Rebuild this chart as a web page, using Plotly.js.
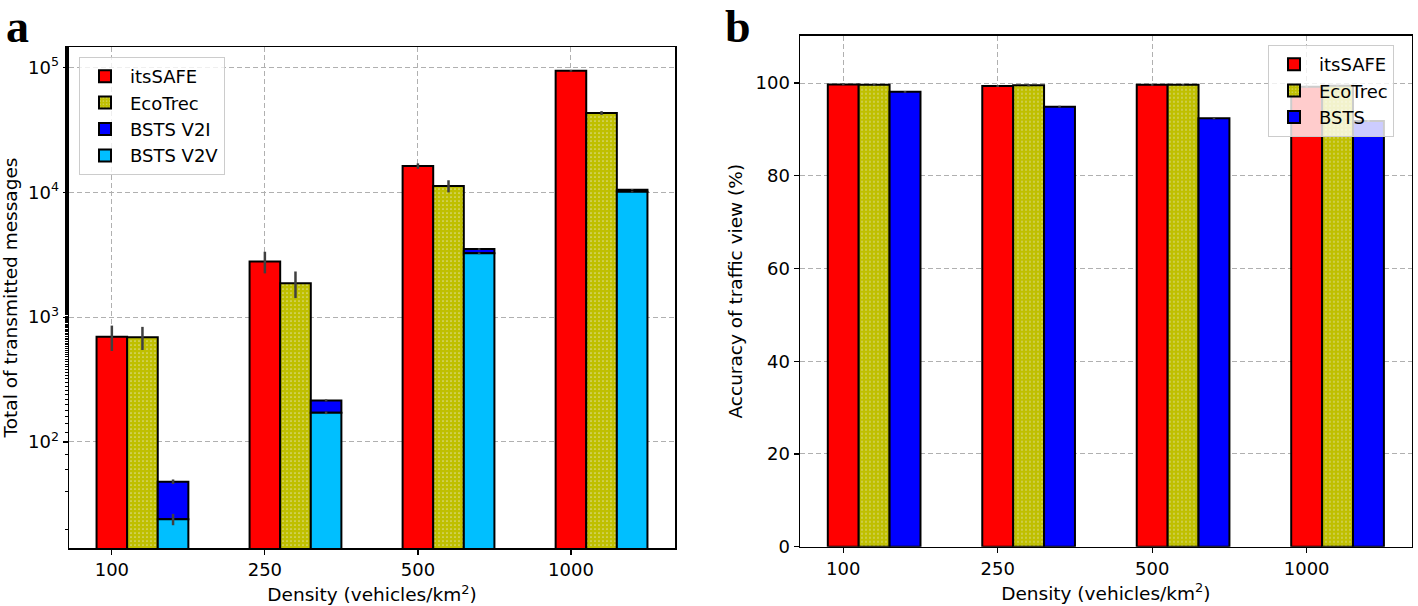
<!DOCTYPE html>
<html>
<head>
<meta charset="utf-8">
<script src="https://cdn.plot.ly/plotly-3.0.1.min.js"></script>
<style>
  html, body { margin: 0; padding: 0; background: #fff; }
  #chart { width: 1418px; height: 606px; }
</style>
</head>
<body>
<div id="chart"></div>
<script>
// ---------- data ----------
const categories = ['100', '250', '500', '1000'];
const catIndex = [0, 1, 2, 3];

// panel a: total of transmitted messages
const itsSafeMsgs = [695, 2790, 16250, 94100];
const itsSafeMsgsErr = [160, 550, 800, 1500];
const ecoTrecMsgs = [690, 1870, 11230, 43200];
const ecoTrecMsgsErr = [145, 450, 1250, 1500];
const bstsV2VMsgs = [24, 171, 3245, 10100];
const bstsV2VMsgsErr = [2.5, 4, 50, 100];
const bstsV2IMsgs = [24, 44, 265, 400];
const bstsV2IMsgsErr = [2, 4, 50, 100];

// panel b: accuracy of traffic view (%)
const itsSafeAcc = [99.7, 99.35, 99.6, 99.2];
const ecoTrecAcc = [99.6, 99.5, 99.6, 99.4];
const bstsAcc = [98.1, 94.9, 92.4, 91.8];
const accErr = [0.2, 0.2, 0.2, 0.2];

const logTickVals = [100, 1000, 10000, 100000];
const logTickText = ['10<sup>2</sup>', '10<sup>3</sup>', '10<sup>4</sup>', '10<sup>5</sup>'];

// ---------- styles ----------
const RED = '#ff0000', OLIVE = '#bfbf00', BLUE = '#0000ff', CYAN = '#00bfff';
const FONT = 'DejaVu Sans, sans-serif';
const barLine = { color: '#000000', width: 2 };
const W = 0.2;
function errStyle(arr) {
  return { type: 'data', array: arr, visible: true, color: '#404040', thickness: 2.5, width: 0 };
}
const ecoPattern = { shape: '.', fgcolor: '#dcdc8c', bgcolor: OLIVE, size: 4, solidity: 0.15 };

const traces = [
  { type: 'bar', name: 'itsSAFE', x: catIndex, y: itsSafeMsgs, width: W, offset: -0.1,
    marker: { color: RED, line: barLine }, error_y: errStyle(itsSafeMsgsErr),
    xaxis: 'x', yaxis: 'y', legend: 'legend' },
  { type: 'bar', name: 'EcoTrec', x: catIndex, y: ecoTrecMsgs, width: W, offset: 0.1,
    marker: { color: OLIVE, line: barLine, pattern: ecoPattern }, error_y: errStyle(ecoTrecMsgsErr),
    xaxis: 'x', yaxis: 'y', legend: 'legend' },
  { type: 'bar', name: 'BSTS V2I', x: catIndex, y: bstsV2IMsgs, base: bstsV2VMsgs, width: W, offset: 0.3,
    marker: { color: BLUE, line: barLine }, error_y: errStyle(bstsV2IMsgsErr),
    xaxis: 'x', yaxis: 'y', legend: 'legend' },
  { type: 'bar', name: 'BSTS V2V', x: catIndex, y: bstsV2VMsgs, width: W, offset: 0.3,
    marker: { color: CYAN, line: barLine }, error_y: errStyle(bstsV2VMsgsErr),
    xaxis: 'x', yaxis: 'y', legend: 'legend' },

  { type: 'bar', name: 'itsSAFE', x: catIndex, y: itsSafeAcc, width: W, offset: -0.1,
    marker: { color: RED, line: barLine }, error_y: errStyle(accErr),
    xaxis: 'x2', yaxis: 'y2', legend: 'legend2' },
  { type: 'bar', name: 'EcoTrec', x: catIndex, y: ecoTrecAcc, width: W, offset: 0.1,
    marker: { color: OLIVE, line: barLine, pattern: ecoPattern }, error_y: errStyle(accErr),
    xaxis: 'x2', yaxis: 'y2', legend: 'legend2' },
  { type: 'bar', name: 'BSTS', x: catIndex, y: bstsAcc, width: W, offset: 0.3,
    marker: { color: BLUE, line: barLine }, error_y: errStyle(accErr),
    xaxis: 'x2', yaxis: 'y2', legend: 'legend2' }
];

const gridCommon = {
  showgrid: true, gridcolor: '#b0b0b0', gridwidth: 1, griddash: '5px,3px',
  showline: true, linecolor: '#000', linewidth: 1.5, mirror: true,
  ticks: 'outside', ticklen: 5, tickwidth: 1.2, tickcolor: '#000',
  zeroline: false, tickfont: { family: FONT, size: 18, color: '#000' }
};

const xTitle = { text: 'Density (vehicles/km<sup>2</sup>)', font: { family: FONT, size: 18.5, color: '#000' }, standoff: 9 };

const layout = {
  width: 1418, height: 606,
  margin: { l: 0, r: 0, t: 0, b: 0 },
  paper_bgcolor: '#fff', plot_bgcolor: '#fff',
  barmode: 'overlay',
  font: { family: FONT, color: '#000' },
  xaxis: Object.assign({}, gridCommon, {
    domain: [69 / 1418, 675 / 1418], anchor: 'y',
    range: [-0.28, 3.68], tickvals: catIndex, ticktext: categories,
    title: xTitle, automargin: false
  }),
  yaxis: Object.assign({}, gridCommon, {
    domain: [1 - 548 / 606, 1 - 47 / 606], anchor: 'x',
    type: 'log', range: [1.15, 5.164],
    tickvals: logTickVals, ticktext: logTickText,
    minor: { ticks: 'outside', ticklen: 3, tickwidth: 1, tickcolor: '#000', showgrid: false },
    title: { text: 'Total of transmitted messages', font: { family: FONT, size: 18.5, color: '#000' }, standoff: 6 },
    automargin: false
  }),
  xaxis2: Object.assign({}, gridCommon, {
    domain: [800 / 1418, 1411.7 / 1418], anchor: 'y2',
    range: [-0.28, 3.68], tickvals: catIndex, ticktext: categories,
    title: xTitle, automargin: false
  }),
  yaxis2: Object.assign({}, gridCommon, {
    domain: [1 - 546.7 / 606, 1 - 35.7 / 606], anchor: 'x2',
    range: [0, 110.2], dtick: 20,
    title: { text: 'Accuracy of traffic view (%)', font: { family: FONT, size: 18.5, color: '#000' }, standoff: 8 },
    automargin: false
  }),
  legend: {
    x: 79 / 1418, y: 1 - 57 / 606, xanchor: 'left', yanchor: 'top',
    bgcolor: 'rgba(255,255,255,0.8)', bordercolor: '#cccccc', borderwidth: 1,
    font: { family: FONT, size: 18, color: '#000' }, itemwidth: 40, traceorder: 'normal'
  },
  legend2: {
    x: 1268 / 1418, y: 1 - 45 / 606, xanchor: 'left', yanchor: 'top',
    bgcolor: 'rgba(255,255,255,0.8)', bordercolor: '#cccccc', borderwidth: 1,
    font: { family: FONT, size: 18, color: '#000' }, itemwidth: 40, traceorder: 'normal'
  },
  showlegend: true,
  annotations: [
    { text: '<b>a</b>', xref: 'paper', yref: 'paper', x: 5 / 1418, y: 1, xanchor: 'left', yanchor: 'top',
      borderpad: 0, showarrow: false, font: { family: 'Liberation Serif, serif', size: 46, color: '#000' } },
    { text: '<b>b</b>', xref: 'paper', yref: 'paper', x: 724 / 1418, y: 1, xanchor: 'left', yanchor: 'top',
      borderpad: 0, showarrow: false, font: { family: 'Liberation Serif, serif', size: 46, color: '#000' } }
  ]
};

Plotly.newPlot('chart', traces, layout, { displayModeBar: false, staticPlot: true });
</script>
</body>
</html>
